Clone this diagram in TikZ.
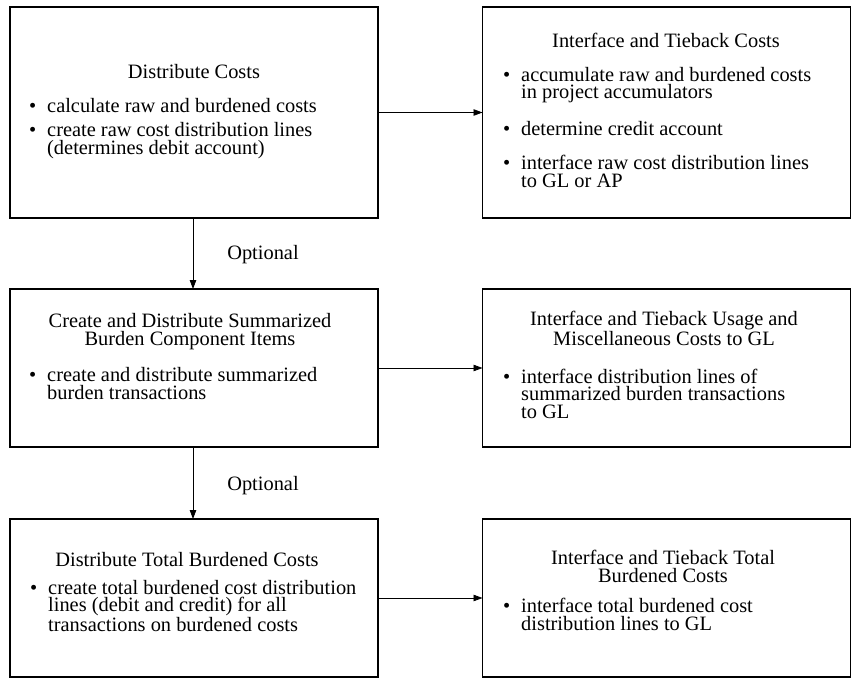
\documentclass[tikz,border=0pt]{standalone}
\usepackage{fontspec}
\setmainfont{Liberation Serif}
\usetikzlibrary{arrows.meta}

\tikzset{
  box/.style={draw=black, line width=1.5pt, rectangle, inner sep=0pt, outer sep=0pt,
              minimum width=368pt, anchor=north west},
  flow/.style={draw=black, line width=0.8pt, -{Triangle[length=9pt,width=6.5pt]}},
  % multi-line nodes are placed by the baseline of their last line
  title/.style={align=center, anchor=base, inner sep=0pt,
                font=\fontsize{20.4}{18}\selectfont},
  items/.style={align=left, anchor=base west, inner sep=0pt,
                font=\fontsize{20.4}{17.5}\selectfont},
  note/.style={anchor=base, inner sep=0pt, font=\fontsize{20.4}{18}\selectfont}
}
% bullet hung to the left of the item text
\newcommand{\bul}{\llap{\textbullet\hspace{11pt}}}

\begin{document}
\begin{tikzpicture}[x=1pt, y=-1pt]
\useasboundingbox (0,0) rectangle (856,677);

% boxes
\node[box, minimum height=211pt] (b1) at (10,7) {};
\node[box, minimum height=211pt] (b2) at (482.5,7) {};
\node[box, minimum height=158pt] (b3) at (10,289) {};
\node[box, minimum height=158pt] (b4) at (482.5,289) {};
\node[box, minimum height=158pt] (b5) at (10,519) {};
\node[box, minimum height=158pt] (b6) at (482.5,519) {};

% box 1
\node[title] (t1) at (194,78.5) {Distribute Costs};
\node[items] (i1) at (47,154) {\bul calculate raw and burdened costs\\[7pt]
  \bul create raw cost distribution lines\\
  (determines debit account)};

% box 2
\node[title] (t2) at (666,47.5) {Interface and Tieback Costs};
\node[items] (i2) at (521,187) {\bul accumulate raw and burdened costs\\
  in project accumulators\\[17pt]
  \bul determine credit account\\[17pt]
  \bul interface raw cost distribution lines\\
  to GL or AP};

% box 3
\node[title] (t3) at (190,345) {Create and Distribute Summarized\\Burden Component Items};
\node[items] (i3) at (47,399) {\bul create and distribute summarized\\
  burden transactions};

% box 4
\node[title] (t4) at (664,345) {Interface and Tieback Usage and\\Miscellaneous Costs to GL};
\node[items] (i4) at (521,418) {\bul interface distribution lines of\\
  summarized burden transactions\\
  to GL};

% box 5
\node[title] (t5) at (187,566) {Distribute Total Burdened Costs};
\node[items] (i5) at (48,631) {\bul create total burdened cost distribution\\
  lines (debit and credit) for all\\
  transactions on burdened costs};

% box 6
\node[title] (t6) at (663,582) {Interface and Tieback Total\\Burdened Costs};
\node[items] (i6) at (521,630) {\bul interface total burdened cost\\
  distribution lines to GL};

% connectors
\draw[flow] (b1.east) -- (b2.west |- b1.east);
\draw[flow] (b3.east) -- (b4.west |- b3.east);
\draw[flow] (b5.east) -- (b6.west |- b5.east);
\draw[flow] ([xshift=-1pt]b1.south) -- ([xshift=-1pt]b3.north);
\draw[flow] ([xshift=-1pt]b3.south) -- ([xshift=-1pt]b5.north);

% labels on the optional steps
\node[note] (o1) at (263,259) {Optional};
\node[note] (o2) at (263,490) {Optional};
\end{tikzpicture}
\end{document}
